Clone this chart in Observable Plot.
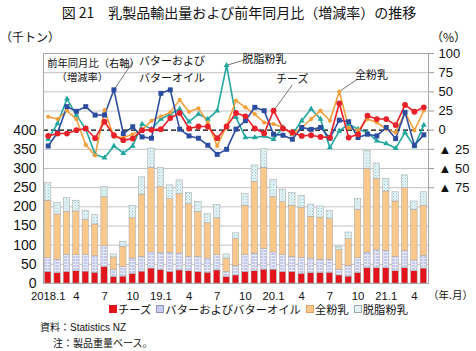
<!DOCTYPE html>
<html><head><meta charset="utf-8">
<script src="https://cdn.jsdelivr.net/npm/d3@7"></script>
<script src="https://cdn.jsdelivr.net/npm/@observablehq/plot@0.6"></script>
<style>
body{margin:0;background:#fff;width:476px;height:351px;position:relative;overflow:hidden;font-family:"Liberation Sans","Noto Sans CJK JP",sans-serif;color:#111;}
.abs{position:absolute;white-space:nowrap;line-height:1;}
#title{top:5px;left:0;width:478px;text-align:center;font-size:14px;font-family:"Noto Sans CJK JP",sans-serif;}
#chart{position:absolute;top:25px;left:0;}
.sw{display:inline-block;width:6px;height:6px;margin-right:1px;vertical-align:1px;border:1px solid #999;}
#legend{top:304px;left:109px;font-size:11.3px;font-family:"Noto Sans CJK JP",sans-serif;}
#legend span.it{margin-right:5px;}
.note{font-size:10px;}
</style></head><body>
<svg width="0" height="0" style="position:absolute"><defs>
<pattern id="pButter" width="4" height="3" patternUnits="userSpaceOnUse"><rect width="4" height="3" fill="#c4c9ec"/><rect y="2" width="4" height="1" fill="#eceefa"/><rect x="3" width="1" height="3" fill="#dfe2f6"/></pattern>
<pattern id="pSmp" width="3" height="3" patternUnits="userSpaceOnUse"><rect width="3" height="3" fill="#e4f4f6"/><rect width="1" height="1" fill="#9ccbd3"/><rect x="1.5" y="1.5" width="1" height="1" fill="#b5dbe0"/></pattern>
</defs></svg>
<div id="title" class="abs">図 21　乳製品輸出量および前年同月比（増減率）の推移</div>
<div class="abs" style="top:31px;left:0;font-size:12px;font-family:'Noto Sans CJK JP';">（千トン）</div>
<div class="abs" style="top:31px;left:431px;font-size:12px;font-family:'Noto Sans CJK JP';">（%）</div>
<div id="chart"></div>
<div class="abs" style="top:290px;left:428px;font-size:10.5px;font-family:'Noto Sans CJK JP';">（年.月）</div>
<div id="legend" class="abs"></div>
<div class="abs note" style="top:323px;left:40px;">資料：Statistics NZ</div>
<div class="abs note" style="top:339px;left:53px;">注：製品重量ベース。</div>
<script>
// ---- data ----
const months = ["2018-01","2018-02","2018-03","2018-04","2018-05","2018-06","2018-07","2018-08","2018-09","2018-10","2018-11","2018-12",
"2019-01","2019-02","2019-03","2019-04","2019-05","2019-06","2019-07","2019-08","2019-09","2019-10","2019-11","2019-12",
"2020-01","2020-02","2020-03","2020-04","2020-05","2020-06","2020-07","2020-08","2020-09","2020-10","2020-11","2020-12",
"2021-01","2021-02","2021-03","2021-04","2021-05"];
const types = ["チーズ","バターおよびバターオイル","全粉乳","脱脂粉乳"];
// export volumes (thousand tonnes)
const cheese = [30,27,30,32,31,28,43,17,18,25,31,39, 35,30,34,32,30,28,34,17,21,30,32,36, 36,30,30,25,27,27,28,21,18,27,40,40, 40,32,40,32,39];
const butter = [36,35,45,42,43,43,54,19,25,40,38,42, 45,50,44,37,39,37,40,13,24,44,46,54, 45,44,39,42,38,35,34,15,27,39,40,47, 45,37,44,28,33];
const wmp    = [150,118,112,114,92,83,128,32,53,105,163,221, 172,140,155,138,117,92,96,35,71,129,187,212, 145,138,134,131,109,110,106,51,71,126,219,186, 155,145,165,132,131];
const smp    = [46,30,36,28,24,24,27,8,13,33,45,50, 50,36,36,29,26,24,35,11,15,30,43,48, 44,33,33,31,32,29,22,9,17,28,47,40, 33,24,33,22,35];
// year-on-year change (%), right axis
const cheesePct = [-7.5,-4.4,-4.4,0,2.2,-10.5,11,-6.6,-13,-11,0,0.4, 1.3,15.8,22.4,2.2,4.8,4.8,-10.5,4.8,22.4,18,2.2,-4, 25.4,2.2,-3,-7.5,-6.6,-8.8,-9.6,35,-9.6,-5.3,18.9,14.5, 14.5,6.6,32.9,24,29.8];
const butterPct = [-20.6,-3,30.7,24.6,30.7,19.7,19.7,52.6,-4.4,4.4,-8.8,-10.5, 48,52.6,1.3,-7.5,-10.5,-19.7,-31.6,-25,1.3,12.3,29.8,25.4, -5.3,-6.6,-11.8,3.5,1,3.5,-10.5,13,11,-9.6,-5.3,-7.5, 3.5,-11,23.2,-19.7,-6.1];
const wmpPct    = [17.5,14.5,25.4,14.5,-19.3,-33,26.3,-8.8,-9.6,-5.3,0,12.3, 18,23.2,39.5,24,28.5,10,-20.6,5.7,38.6,29.8,21,10, 7.9,3.5,-5.3,3.5,14.5,25.4,12.3,50.4,3.1,-0.4,14.5,10, 1.3,-3,23.2,-0.4,25.4];
const smpPct    = [-11.8,8.8,40.8,19.7,1.3,-31.6,-36,-20.6,-30,-20.6,7.9,1.3, 14.5,21,27.6,11,21,14.5,25.4,84.6,16.7,-9.6,-9.6,-7.5, -11.8,3.5,-5.3,12.3,27.6,14.5,-22.8,-1,7.9,1.3,-3,-14, -17.5,-23.7,-3,-21.5,6.6];
// axes
const leftTicks = [0,50,100,150,200,250,300,350,400];
const rightTicks = [100,75,50,25,0,-25,-50,-75];
const gridTicks = [50,100,150,200,250,300,350,450,500,550];
const xTickMonths = ["2018-01","2018-04","2018-07","2018-10","2019-01","2019-04","2019-07","2019-10","2020-01","2020-04","2020-07","2020-10","2021-01","2021-04"];
const xTickLabels = ["2018.1","4","7","10","19.1","4","7","10","20.1","4","7","10","21.1","4"];
// annotations (month, % on right axis)
const labelsKey = [
  {text:"前年同月比（右軸）", month:"2018-01", pct:87},
  {text:"（増減率）", month:"2018-02", pct:68}
];
const labelsStart = [
  {text:"バターおよび", month:"2018-11", pct:89},
  {text:"バターオイル", month:"2018-11", pct:68},
  {text:"脱脂粉乳", month:"2019-10", pct:92.5},
  {text:"全粉乳", month:"2020-10", pct:71.5}
];
const labelsMiddle = [
  {text:"チーズ", month:"2020-03", pct:66}
];
const leaders = [
  {m1:"2018-10", p1:89, m2:"2018-08", p2:52.6},
  {m1:"2019-10", p1:92, m2:"2019-08", p2:84.6},
  {m1:"2020-03", p1:59, m2:"2020-01", p2:25.4},
  {m1:"2020-10", p1:67, m2:"2020-08", p2:50.4}
];

const fills = ["#e3141c","url(#pButter)","#fbc88c","url(#pSmp)"];
const lineColors = {cheese:"#e8202a", butter:"#2c4c9f", wmp:"#f4a03c", smp:"#22a7a0"};
const toY = p => 400 + 2 * p;   // right-axis % -> left-axis units (0% = 400, 25% = 50)

const rows = [];
months.forEach((m, i) => {
  rows.push({month:m, type:types[0], value:cheese[i]});
  rows.push({month:m, type:types[1], value:butter[i]});
  rows.push({month:m, type:types[2], value:wmp[i]});
  rows.push({month:m, type:types[3], value:smp[i]});
});
const xm = (d, i) => months[i];
const series = [
  {v:smpPct, c:lineColors.smp, sym:"triangle", r:2.2},
  {v:wmpPct, c:lineColors.wmp, sym:"circle", r:2.1},
  {v:butterPct, c:lineColors.butter, sym:"square", r:2.8},
  {v:cheesePct, c:lineColors.cheese, sym:"circle", r:2.9}
];

const font = "'Liberation Sans','Noto Sans CJK JP',sans-serif";
const jfont = "'Noto Sans CJK JP',sans-serif";
const chart = Plot.plot({
  width: 476, height: 278,
  marginLeft: 43, marginRight: 48, marginTop: 28, marginBottom: 20,
  style: {fontFamily: font, fontSize: "12px", color: "#111", background: "transparent"},
  x: {type: "band", domain: months, paddingInner: 0.32, paddingOuter: 0.16, round: false},
  y: {domain: [0, 600]},
  color: {domain: types, range: fills},
  marks: [
    Plot.gridY(gridTicks, {stroke: "#c2c2c2", strokeOpacity: 1}),
    Plot.barY(rows, {x: "month", y: "value", fill: "type", stroke: "#a3a3a3", strokeWidth: 0.5}),
    Plot.ruleY([400], {stroke: "#000", strokeDasharray: "5,3", strokeWidth: 1.4}),
    Plot.frame({stroke: "#a8a8a8"}),
    Plot.link(leaders, {x1: "m1", y1: d => toY(d.p1), x2: "m2", y2: d => toY(d.p2), stroke: "#777", strokeWidth: 1}),
    ...series.map(s => Plot.line(s.v, {x: xm, y: d => toY(d), stroke: s.c, strokeWidth: 1.6})),
    ...series.map(s => Plot.dot(s.v, {x: xm, y: d => toY(d), symbol: s.sym, r: s.r, fill: s.c, stroke: "none"})),
    Plot.text(labelsKey, {x: "month", y: d => toY(d.pct), text: "text", textAnchor: "start", fontSize: 10.3, fontFamily: jfont, fill: "#111", dx: -1}),
    Plot.text(labelsStart, {x: "month", y: d => toY(d.pct), text: "text", textAnchor: "start", fontSize: 11, fontFamily: jfont, fill: "#111", dx: -3}),
    Plot.text(labelsMiddle, {x: "month", y: d => toY(d.pct), text: "text", textAnchor: "middle", fontSize: 11, fontFamily: jfont, fill: "#111", dx: 0}),
    Plot.axisY(leftTicks, {anchor: "left", tickSize: 0, tickPadding: 7, fontSize: 14, label: null}),
    Plot.axisY(rightTicks.map(toY), {anchor: "right", tickSize: 5, tickPadding: 5, stroke: "#999", fontSize: 13, label: null,
      tickFormat: v => { const p = (v - 400) / 2; return p < 0 ? "▲ " + (-p) : String(p); }}),
    Plot.axisX(xTickMonths, {anchor: "bottom", tickSize: 0, tickPadding: 8, fontSize: 11.3, label: null,
      tickFormat: d => xTickLabels[xTickMonths.indexOf(d)]})
  ]
});
document.getElementById("chart").appendChild(chart);

const legendFill = ["#e3141c", "#c9cdee", "#fbc88c", "#e4f4f6"];
const legendBorder = ["#e3141c", "#8a8fc0", "#e0a060", "#9aa"];
document.getElementById("legend").innerHTML = types.map((t, i) =>
  `<span class="it"><span class="sw" style="background:${legendFill[i]};border-color:${legendBorder[i]}"></span>${t}</span>`).join("");
</script>
</body></html>
